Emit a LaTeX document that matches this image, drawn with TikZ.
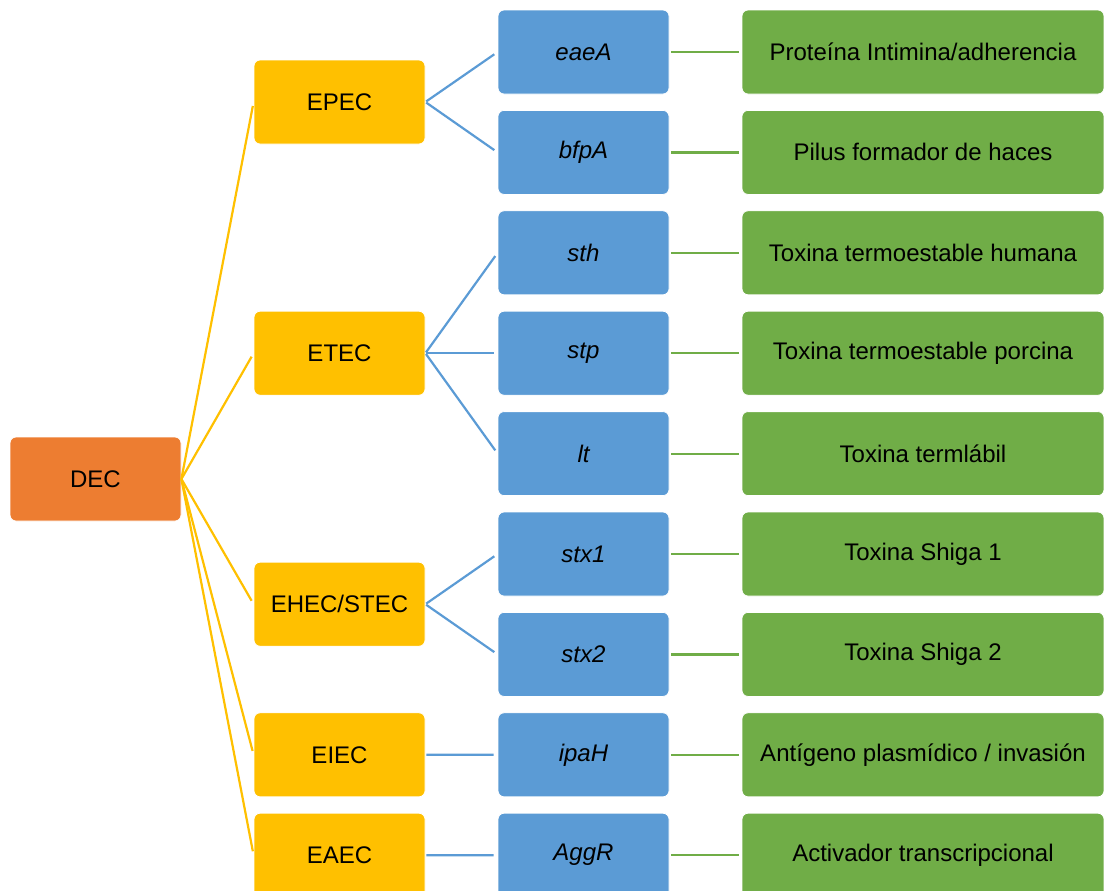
\documentclass[tikz,border=0pt]{standalone}
\usepackage{fontspec}
\setmainfont{Liberation Sans}
\definecolor{decorange}{HTML}{ED7D31}
\definecolor{pathyellow}{HTML}{FFC000}
\definecolor{geneblue}{HTML}{5B9BD5}
\definecolor{rolegreen}{HTML}{70AD47}
\tikzset{
  box/.style={rounded corners=3pt, draw=white, line width=0.4pt,
    minimum width=85.5pt, minimum height=42pt, inner sep=2pt,
    font=\fontsize{12}{14}\selectfont},
  decbox/.style={box, fill=decorange},
  pathbox/.style={box, fill=pathyellow},
  genebox/.style={box, fill=geneblue, font=\fontsize{12}{14}\selectfont\itshape},
  rolebox/.style={box, fill=rolegreen, minimum width=181pt},
  ylink/.style={pathyellow, line width=1.1pt, shorten >=2pt},
  blink/.style={geneblue, line width=1.1pt, shorten <=0.5pt, shorten >=2pt},
  glink/.style={rolegreen, line width=1.1pt, shorten <=1pt, shorten >=1.5pt}
}
\begin{document}
\begin{tikzpicture}[x=0.5pt,y=-0.5pt]
\useasboundingbox (0,0) rectangle (1104,890);
\clip (0,0) rectangle (1104,890);

\node[decbox] (dec) at (95.5,479) {DEC};

\node[pathbox] (epec) at (339.5,102) {EPEC};
\node[pathbox] (etec) at (339.5,353.2) {ETEC};
\node[pathbox] (ehec) at (339.5,604.2) {EHEC/STEC};
\node[pathbox] (eiec) at (339.5,754.8) {EIEC};
\node[pathbox] (eaec) at (339.5,855.2) {EAEC};

% genes and what they code for, one row each
\foreach \i/\gen/\rol in {0/eaeA/{Proteína Intimina/adherencia},
    1/bfpA/{Pilus formador de haces},
    2/sth/{Toxina termoestable humana},
    3/stp/{Toxina termoestable porcina},
    4/lt/{Toxina termlábil},
    5/stx1/{Toxina Shiga 1},
    6/stx2/{Toxina Shiga 2},
    7/ipaH/{Antígeno plasmídico / invasión},
    8/AggR/{Activador transcripcional}}
{
  \node[genebox] (g\i) at (583.5,52+100.4*\i) {\gen};
  \node[rolebox] (r\i) at (923,52+100.4*\i) {\rol};
  \draw[glink] (g\i.east) -- (r\i.west);
}

\foreach \p in {epec,etec,ehec,eiec,eaec}
  \draw[ylink] (dec.east) -- (\p.west);

\draw[blink] (epec.east) -- (g0.west);
\draw[blink] (epec.east) -- (g1.west);
\draw[blink] (etec.east) -- (g2.west);
\draw[blink] (etec.east) -- (g3.west);
\draw[blink] (etec.east) -- (g4.west);
\draw[blink] (ehec.east) -- (g5.west);
\draw[blink] (ehec.east) -- (g6.west);
\draw[blink] (eiec.east) -- (g7.west);
\draw[blink] (eaec.east) -- (g8.west);
\end{tikzpicture}
\end{document}
